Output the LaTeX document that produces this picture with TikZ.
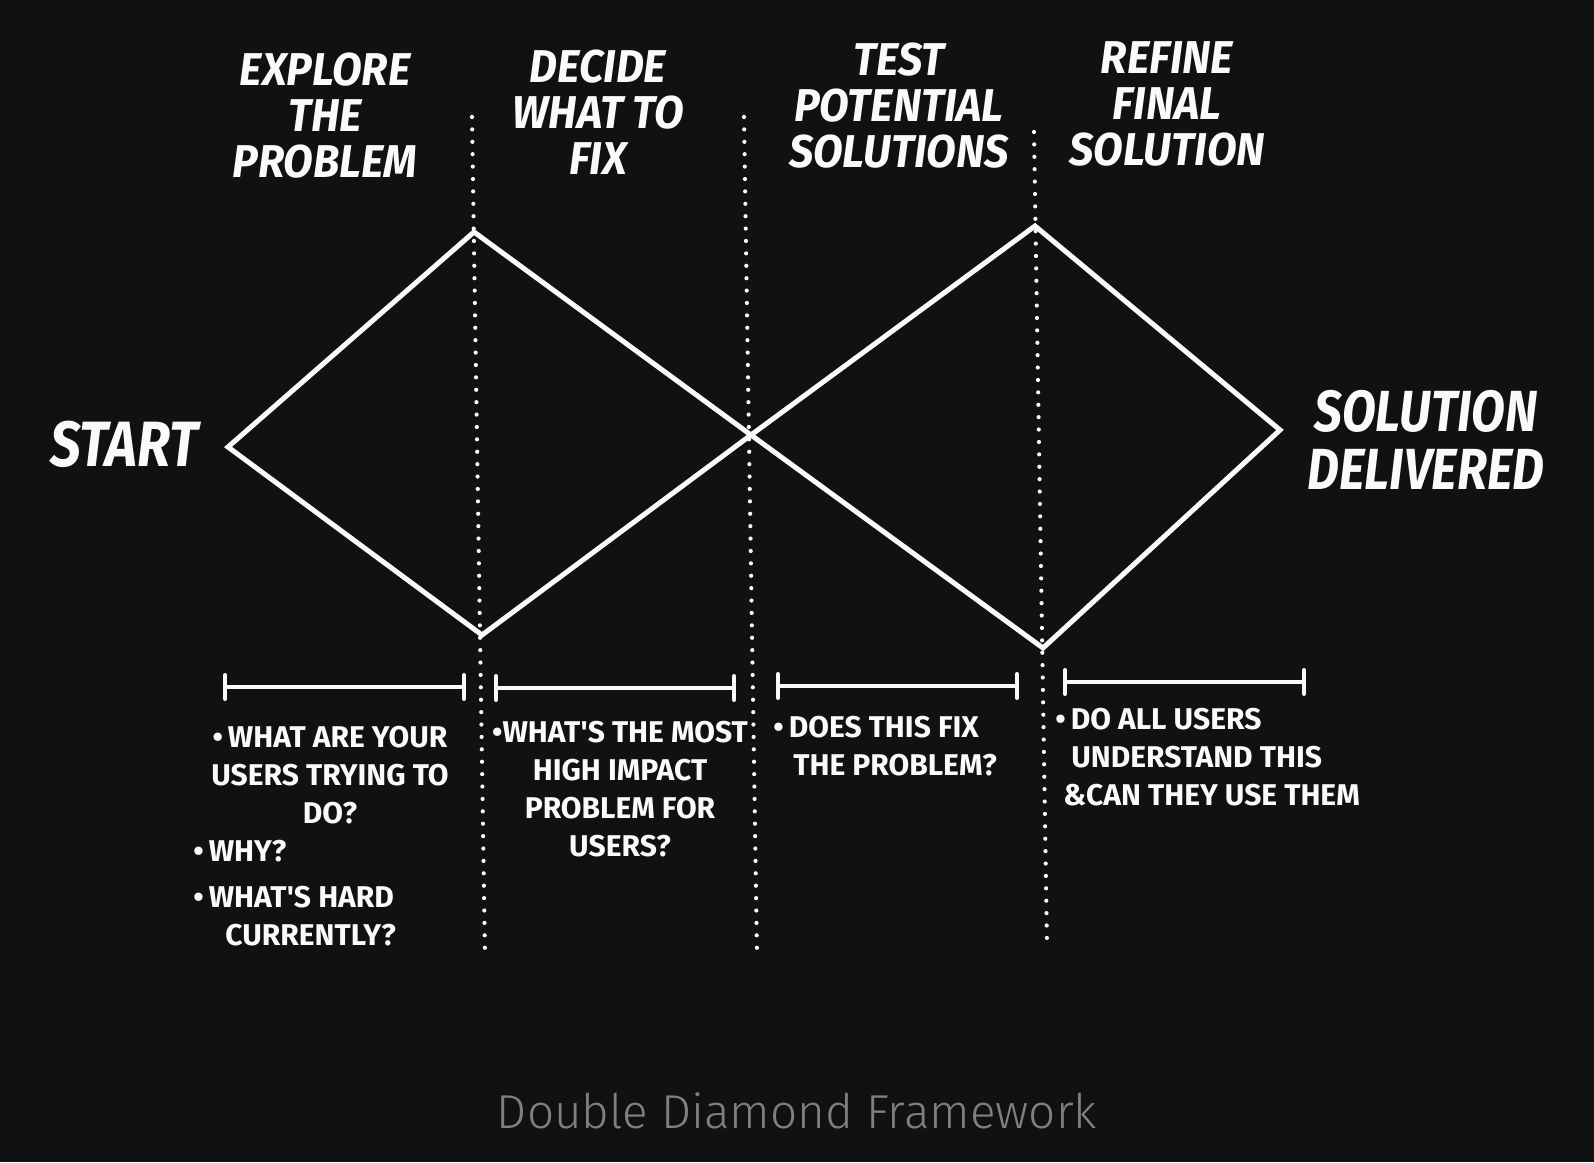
\documentclass[tikz,border=0pt]{standalone}
\usepackage{fontspec}
\usepackage{tikz}
\usetikzlibrary{arrows.meta}
\newfontfamily\handfont{Fira Sans}[FakeStretch=0.85]
\newfontfamily\phasefont{Fira Sans}[FakeStretch=0.94]
\newfontfamily\notefont{Fira Sans}
\newfontfamily\capfont{Fira Sans Light}
\definecolor{bgDark}{HTML}{111111}
\definecolor{inkWhite}{HTML}{FAFAFA}
\definecolor{capGray}{HTML}{808080}
\tikzset{
  ink/.style    ={line width=2.5pt, draw=inkWhite},
  phase/.style  ={text=inkWhite, align=center, font=\phasefont\bfseries\itshape\fontsize{23}{23}\selectfont},
  ends/.style   ={text=inkWhite, align=center, font=\handfont\bfseries\itshape\fontsize{29}{29}\selectfont},
  note/.style   ={text=inkWhite, inner sep=0pt, font=\notefont\bfseries\fontsize{15}{19}\selectfont},
  span/.style   ={line width=2pt, draw=inkWhite, {Bar[width=12pt,round]}-{Bar[width=12pt,round]}},
  divider/.style={line width=2.1pt, draw=inkWhite, line cap=round, dash pattern=on 0pt off 6.2pt},
}

\begin{document}
\begin{tikzpicture}[x=0.5pt, y=-0.5pt]
  \path[use as bounding box, fill=bgDark] (0,0) rectangle (1594,1162);

  % the two diamonds: start -> crossing -> solution
  \coordinate (L)  at (228,447);
  \coordinate (T1) at (474,232);
  \coordinate (B1) at (482,635);
  \coordinate (C)  at (751,435);
  \coordinate (T2) at (1035,226);
  \coordinate (B2) at (1043,648);
  \coordinate (R)  at (1280,430);
  \draw[ink] (L) -- (T1) -- (C) -- (T2) -- (R) -- (B2) -- (C) -- (B1) -- cycle;

  % phase dividers
  \draw[divider] (472,117)  -- (485,956);
  \draw[divider] (744,117)  -- (757,956);
  \draw[divider] (1034,132) -- (1047,945);

  \node[ends, font=\handfont\bfseries\itshape\fontsize{32}{32}\selectfont] (start) at (124,444) {START};
  \node[ends]  (done)    at (1426,440) {SOLUTION\\DELIVERED};
  \node[phase] (explore) at (325,116)  {EXPLORE\\THE\\PROBLEM};
  \node[phase] (decide)  at (598,112)  {DECIDE\\WHAT TO\\FIX};
  \node[phase] (test)    at (899,106)  {TEST\\POTENTIAL\\SOLUTIONS};
  \node[phase] (refine)  at (1167,104) {REFINE\\FINAL\\SOLUTION};

  % spans under each phase
  \foreach \xa/\xb/\yy in {223/466/687, 494/736/688, 776/1019/686, 1063/1306/682}
    \draw[span] (\xa,\yy) -- (\xb,\yy);

  % questions per phase
  \node[note, align=center]            (q1)  at (330,775)  {•\,WHAT ARE YOUR\\USERS TRYING TO\\DO?};
  \node[note, align=left, anchor=west] (q1b) at (193,893)  {•\,WHY?\\[4pt]•\,WHAT'S HARD\\\hspace{16pt}CURRENTLY?};
  \node[note, align=center]            (q2)  at (620,789)  {•WHAT'S THE MOST\\HIGH IMPACT\\PROBLEM FOR\\USERS?};
  \node[note, align=left, anchor=west] (q3)  at (773,746)  {•\,DOES THIS FIX\\\hspace{10pt}THE PROBLEM?};
  \node[note, align=left, anchor=west] (q4)  at (1055,757) {•\,DO ALL USERS\\\hspace{8pt}UNDERSTAND THIS\\\hspace{4pt}\&CAN THEY USE THEM};

  \node[text=capGray, font=\capfont\fontsize{23.8}{30}\selectfont] (caption) at (797,1111) {Double Diamond Framework};
\end{tikzpicture}
\end{document}
